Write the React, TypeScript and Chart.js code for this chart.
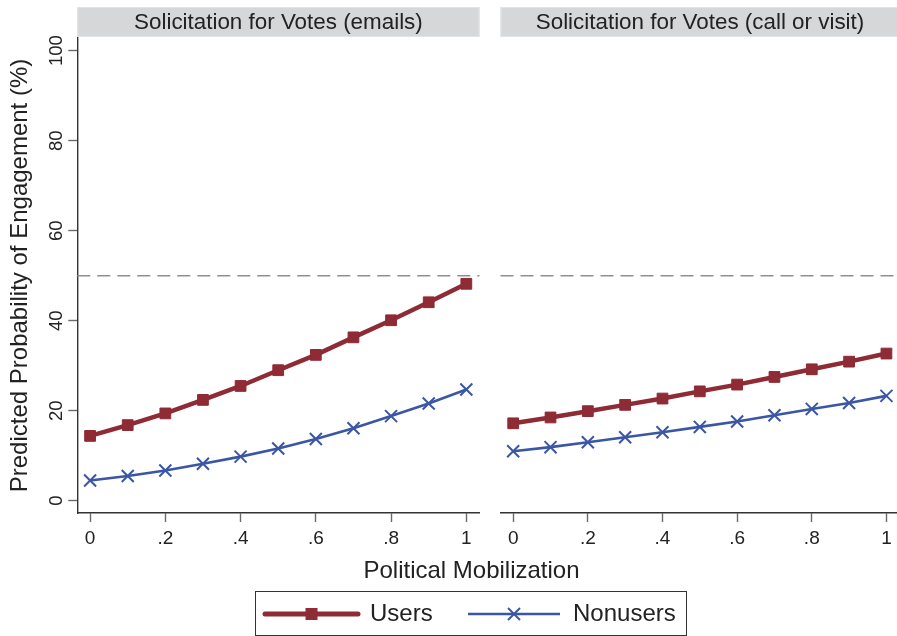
import React, { useEffect, useRef } from 'react';
import { Chart, registerables } from 'chart.js';

Chart.register(...registerables);

const FONT = "'Liberation Sans', Arial, Helvetica, sans-serif";

// ---- data ----
const xValues = [0, 0.1, 0.2, 0.3, 0.4, 0.5, 0.6, 0.7, 0.8, 0.9, 1];
const usersEmails = [14.4, 16.8, 19.4, 22.4, 25.5, 29.0, 32.4, 36.3, 40.1, 44.1, 48.2];
const nonusersEmails = [4.5, 5.5, 6.7, 8.2, 9.8, 11.6, 13.7, 16.1, 18.8, 21.6, 24.7];
const usersCall = [17.2, 18.5, 19.9, 21.3, 22.7, 24.3, 25.8, 27.5, 29.2, 30.9, 32.7];
const nonusersCall = [11.0, 11.9, 13.0, 14.1, 15.2, 16.4, 17.6, 19.0, 20.4, 21.7, 23.3];
const panelTitles = ['Solicitation for Votes (emails)', 'Solicitation for Votes (call or visit)'];
const seriesNames = ['Users', 'Nonusers'];
const xTickValues = [0, 0.2, 0.4, 0.6, 0.8, 1];
const xTickLabels = ['0', '.2', '.4', '.6', '.8', '1'];
const yTickValues = [0, 20, 40, 60, 80, 100];
const referenceLine = 50;
const yTitle = 'Predicted Probability of Engagement (%)';
const xTitle = 'Political Mobilization';

const USERS_COLOR = '#8e2b35';
const NONUSERS_COLOR = '#3b56a5';
const TEXT_COLOR = '#222';

const panelPlugin = {
  id: 'panelDecor',
  beforeDatasetsDraw(chart: any) {
    const { ctx, chartArea, scales } = chart;
    const y = scales.y.getPixelForValue(referenceLine);
    ctx.save();
    ctx.strokeStyle = '#8f8f8f';
    ctx.lineWidth = 1.6;
    ctx.setLineDash([13, 7]);
    ctx.beginPath();
    ctx.moveTo(chartArea.left, y);
    ctx.lineTo(chartArea.right, y);
    ctx.stroke();
    ctx.restore();
  },
  afterDraw(chart: any, _args: any, opts: any) {
    const { ctx, chartArea } = chart;
    const top = chartArea.top - 31;
    const h = 30;
    ctx.save();
    ctx.fillStyle = '#d6d7d9';
    ctx.fillRect(chartArea.left, top, chartArea.right - chartArea.left, h);
    ctx.strokeStyle = '#dde5ea';
    ctx.lineWidth = 1;
    ctx.strokeRect(chartArea.left + 0.5, top + 0.5, chartArea.right - chartArea.left - 1, h - 1);
    ctx.fillStyle = TEXT_COLOR;
    ctx.font = `22.4px ${FONT}`;
    ctx.textAlign = 'center';
    ctx.textBaseline = 'middle';
    ctx.fillText(opts.title || '', (chartArea.left + chartArea.right) / 2, top + h / 2 + 1);
    ctx.restore();
  },
};

function Panel(props: {
  title: string;
  users: number[];
  nonusers: number[];
  showY: boolean;
  left: number;
  width: number;
  padLeft: number;
  padRight: number;
}) {
  const ref = useRef<HTMLCanvasElement | null>(null);
  useEffect(() => {
    if (!ref.current) return;
    const height = 590;
    const chart = new Chart(ref.current, {
      type: 'line',
      data: {
        datasets: [
          {
            label: seriesNames[0],
            data: xValues.map((x, i) => ({ x, y: props.users[i] })),
            borderColor: USERS_COLOR,
            backgroundColor: USERS_COLOR,
            borderWidth: 4.5,
            pointStyle: 'rect',
            pointRadius: 7.6,
            pointBackgroundColor: USERS_COLOR,
            pointBorderColor: USERS_COLOR,
            pointBorderWidth: 1,
            tension: 0,
          },
          {
            label: seriesNames[1],
            data: xValues.map((x, i) => ({ x, y: props.nonusers[i] })),
            borderColor: NONUSERS_COLOR,
            backgroundColor: NONUSERS_COLOR,
            borderWidth: 2.6,
            pointStyle: 'crossRot',
            pointRadius: 8.5,
            pointBorderColor: NONUSERS_COLOR,
            pointBorderWidth: 2,
            tension: 0,
          },
        ],
      },
      options: {
        responsive: false,
        animation: false,
        devicePixelRatio: 1,
        layout: { padding: { left: props.padLeft, right: props.padRight, top: 38, bottom: 0 } },
        plugins: {
          legend: { display: false },
          tooltip: { enabled: false },
          panelDecor: { title: props.title },
        } as any,
        scales: {
          x: {
            type: 'linear',
            min: -0.034,
            max: 1.035,
            afterBuildTicks: (s: any) => {
              s.ticks = xTickValues.map((v) => ({ value: v }));
            },
            afterFit: (s: any) => {
              s.height = height - 513;
            },
            ticks: {
              autoSkip: false,
              maxRotation: 0,
              minRotation: 0,
              padding: 5,
              color: TEXT_COLOR,
              font: { size: 19, family: FONT },
              callback: (v: any) => {
                const i = xTickValues.findIndex((t) => Math.abs(t - Number(v)) < 1e-9);
                return i >= 0 ? xTickLabels[i] : '';
              },
            },
            grid: {
              drawOnChartArea: false,
              drawTicks: true,
              tickLength: 9,
              tickColor: '#6a6a6a',
              tickWidth: 1.4,
            },
            border: { color: '#333', width: 1.4 },
          },
          y: {
            type: 'linear',
            display: props.showY,
            min: -2.73,
            max: 102.82,
            afterBuildTicks: (s: any) => {
              s.ticks = yTickValues.map((v) => ({ value: v }));
            },
            afterFit: (s: any) => {
              if (props.showY) s.width = 77.3;
            },
            title: {
              display: true,
              text: yTitle,
              color: TEXT_COLOR,
              font: { size: 24, family: FONT },
              padding: { top: 6, bottom: 0 },
            },
            ticks: {
              autoSkip: false,
              minRotation: 90,
              maxRotation: 90,
              crossAlign: 'center',
              padding: -4,
              color: TEXT_COLOR,
              font: { size: 18.5, family: FONT },
            },
            grid: {
              drawOnChartArea: false,
              drawTicks: true,
              tickLength: 9,
              tickColor: '#6a6a6a',
              tickWidth: 1.4,
            },
            border: { color: '#333', width: 1.4 },
          },
        },
      } as any,
      plugins: [panelPlugin as any],
    });
    return () => chart.destroy();
  }, []);
  return (
    <canvas
      ref={ref}
      width={props.width}
      height={590}
      style={{ position: 'absolute', left: props.left, top: 0, width: props.width, height: 590 }}
    />
  );
}

function LegendLineUsers() {
  return (
    <svg width={100} height={22} style={{ position: 'absolute', left: 6, top: 11 }}>
      <line x1={3} y1={11} x2={96} y2={11} stroke={USERS_COLOR} strokeWidth={5} strokeLinecap="round" />
      <rect x={43.5} y={5} width={12} height={12} fill={USERS_COLOR} />
    </svg>
  );
}

function LegendLineNonusers() {
  return (
    <svg width={96} height={22} style={{ position: 'absolute', left: 211, top: 11 }}>
      <line x1={1} y1={11} x2={93} y2={11} stroke={NONUSERS_COLOR} strokeWidth={2.6} />
      <line x1={41} y1={5} x2={53} y2={17} stroke={NONUSERS_COLOR} strokeWidth={2} />
      <line x1={41} y1={17} x2={53} y2={5} stroke={NONUSERS_COLOR} strokeWidth={2} />
    </svg>
  );
}

export default function App() {
  return (
    <div
      style={{
        position: 'absolute',
        left: 0,
        top: 0,
        width: 897,
        height: 636,
        overflow: 'hidden',
        background: '#fff',
        fontFamily: FONT,
        color: TEXT_COLOR,
      }}
    >
      <Panel title={panelTitles[0]} users={usersEmails} nonusers={nonusersEmails} showY={true} left={0} width={490} padLeft={0} padRight={8.3} />
      <Panel title={panelTitles[1]} users={usersCall} nonusers={nonusersCall} showY={false} left={490} width={420} padLeft={8.3} padRight={7.3} />
      <div
        style={{
          position: 'absolute',
          left: 271.5,
          width: 400,
          top: 556,
          textAlign: 'center',
          fontSize: 24,
          lineHeight: '28px',
        }}
      >
        {xTitle}
      </div>
      <div
        style={{
          position: 'absolute',
          left: 255,
          top: 591,
          width: 432,
          height: 45,
          boxSizing: 'border-box',
          border: '1px solid #333',
        }}
      >
        <LegendLineUsers />
        <div style={{ position: 'absolute', left: 114, top: 7, fontSize: 24, lineHeight: '28px' }}>{seriesNames[0]}</div>
        <LegendLineNonusers />
        <div style={{ position: 'absolute', left: 317, top: 7, fontSize: 24, lineHeight: '28px' }}>{seriesNames[1]}</div>
      </div>
    </div>
  );
}
